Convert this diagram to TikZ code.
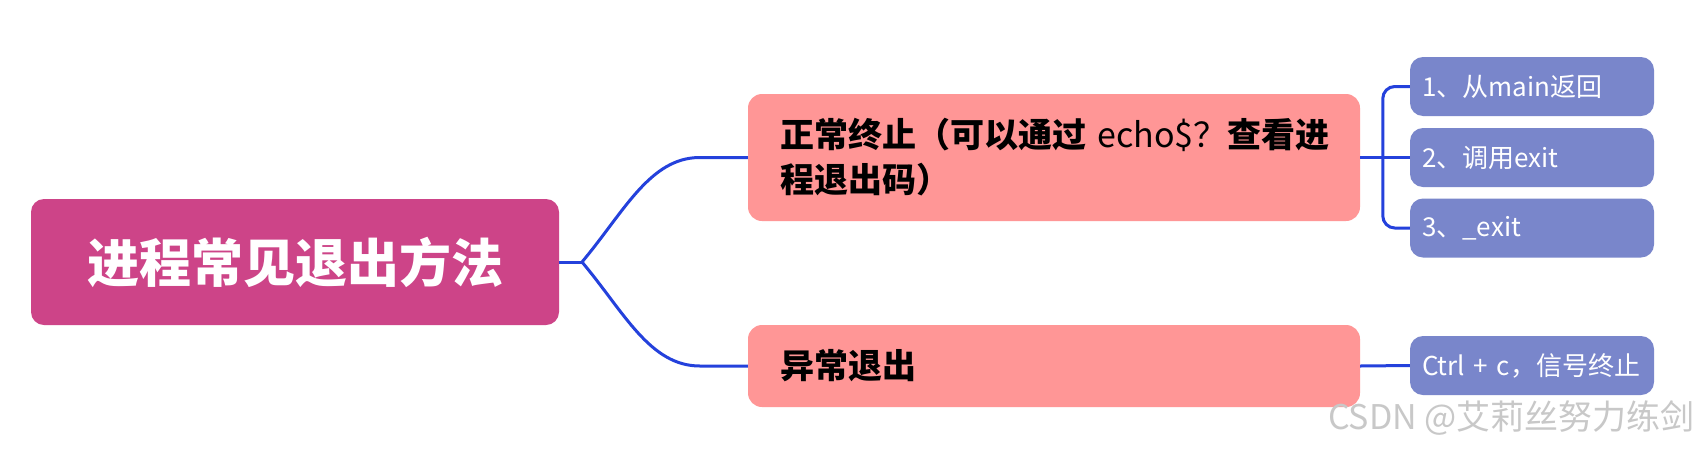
\documentclass[tikz,border=0pt]{standalone}
\usepackage{fontspec}
\setmainfont{Noto Sans CJK SC}
\definecolor{rootc}{HTML}{CD4488}
\definecolor{pinkc}{HTML}{FF9696}
\definecolor{leafc}{HTML}{7986CB}
\definecolor{linkc}{HTML}{2441DC}
\definecolor{wmc}{HTML}{C8C8C8}
\begin{document}
\begin{tikzpicture}[x=1pt,y=-1pt,
  rootbox/.style={fill=rootc, rounded corners=13pt, minimum width=528pt, minimum height=126pt, inner sep=0pt, text=white, font=\fontsize{52}{60}\selectfont\bfseries},
  pinkbox/.style={fill=pinkc, rounded corners=14pt, text width=548pt, inner xsep=32pt, inner ysep=0pt, align=left, text=black, font=\fontsize{34}{45}\selectfont\bfseries},
  leafbox/.style={fill=leafc, rounded corners=13pt, text width=220pt, inner xsep=12pt, inner ysep=0pt, minimum height=59pt, align=left, text=white, font=\fontsize{26}{30}\selectfont},
  link/.style={draw=linkc, line width=3pt}]
\useasboundingbox (0,0) rectangle (1700,448);
\fill[white] (0,0) rectangle (1700,448);
\node[rootbox] (root) at (295,262) {进程常见退出方法};
\node[pinkbox, minimum height=127pt] (p1) at (1054,157.5) {\mbox{正常终止（可以通过{\mdseries\ echo\$？}查看进}\\程退出码）};
\node[pinkbox, minimum height=82pt] (p2) at (1054,366) {异常退出};
\node[leafbox] (b1) at (1532,86.5) {1、从main返回};
\node[leafbox] (b2) at (1532,157.5) {2、调用exit};
\node[leafbox] (b3) at (1532,228) {3、\_exit};
\node[leafbox] (b4) at (1532,365.5) {Ctrl + c，信号终止};
\coordinate (j) at (582,262);
\draw[link] (root.east) -- (j);
\draw[link] (j) .. controls +(42,-50) and +(-50,0) .. ([xshift=-48pt]p1.west) -- (p1.west);
\draw[link] (j) .. controls +(42,50) and +(-50,0) .. ([xshift=-48pt]p2.west) -- (p2.west);
\draw[link] (p1.east) -- (b2.west);
\draw[link, rounded corners=12pt] (b1.west) -- ++(-27,0) |- (b3.west);
\draw[link] (p2.east) -- (b4.west);
\node[anchor=east, text=wmc, font=\fontsize{34}{36}\selectfont, inner sep=0pt] (wm) at (1695,418) {CSDN @艾莉丝努力练剑};
\end{tikzpicture}
\end{document}
